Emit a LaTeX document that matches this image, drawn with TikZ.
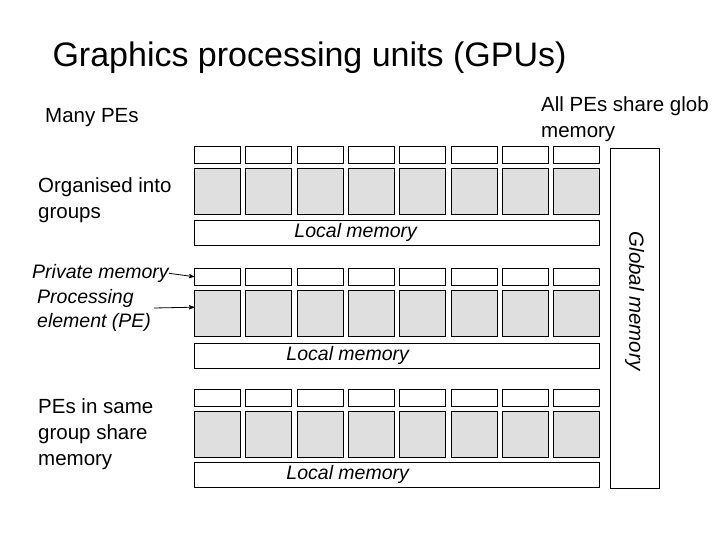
\documentclass[tikz,border=0pt]{standalone}
\usepackage{fontspec}
\setmainfont{Liberation Sans}
\usetikzlibrary{arrows, positioning}

\begin{document}
\begin{tikzpicture}[x=1pt,y=-1pt,>=stealth',
  pmem/.style={draw,minimum width=46pt,minimum height=17pt,inner sep=0pt,anchor=north west},
  pelem/.style={draw,fill=gray!25,minimum width=46pt,minimum height=46pt,inner sep=0pt,anchor=north west},
  lmem/.style={draw,minimum width=405pt,minimum height=25pt,inner sep=0pt,anchor=north west,font=\itshape\fontsize{19.5}{21}\selectfont},
  lbl/.style={align=left,anchor=north west,inner sep=0pt,font=\fontsize{20.5}{26}\selectfont}]
\useasboundingbox (0,0) rectangle (720,540);
\node[anchor=west,font=\fontsize{34}{38}\selectfont] (title) at (49,58) {Graphics processing units (GPUs)};

% three groups of PEs
\foreach \r/\y in {1/146, 2/268, 3/389}{
  \foreach \c in {1,...,8}{
    \node[pmem]  (pm-\r-\c) at ({194+51.3*(\c-1)},\y) {};
    \node[pelem] (pe-\r-\c) at ({194+51.3*(\c-1)},\y+22) {};
  }
}
\node[lmem] (lm-1) at (194,220) {\hspace*{-82pt}Local memory};
\node[lmem] (lm-2) at (194,343) {\hspace*{-98pt}Local memory};
\node[lmem] (lm-3) at (194,462) {\hspace*{-98pt}Local memory};

\node[draw,minimum width=49pt,minimum height=340pt,inner sep=0pt,anchor=north west] (gm) at (610,148) {};
\node[rotate=-90,font=\itshape\fontsize{20.5}{22}\selectfont] (gmlabel) at ([yshift=-18pt]gm.north |- 0,283) {Global memory};

\node[lbl] (many) at (45,108) {Many PEs};
\node[lbl] (allpes) at (541,96) {All PEs share glob\\memory};
\node[lbl] (groups) at (38,177) {Organised into\\groups};
\node[lbl,font=\itshape\fontsize{19.5}{25}\selectfont] (priv) at (32,264) {Private memory};
\node[lbl,font=\itshape\fontsize{19.5}{24}\selectfont] (proc) at (37,289) {Processing\\element (PE)};
\node[lbl] (same) at (38,398) {PEs in same\\group share\\memory};

\draw[->,thick] (priv.east) -- (pm-2-1.west);
\draw[->,thick] ([xshift=3pt]proc.north east |- 0,308) -- ([yshift=6pt]pe-2-1.west);
\end{tikzpicture}
\end{document}
